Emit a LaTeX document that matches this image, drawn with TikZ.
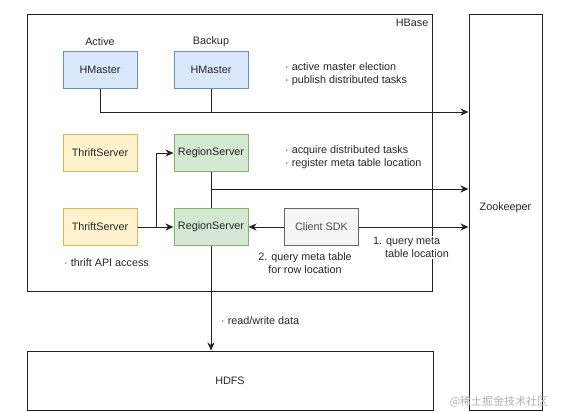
\documentclass[tikz,border=0pt]{standalone}
\usepackage{fontspec}
\setmainfont{Liberation Sans}
\newfontfamily\cjkfont{Noto Sans CJK SC}
\usetikzlibrary{arrows.meta}
\definecolor{bfill}{HTML}{DAE8FC}\definecolor{bdraw}{HTML}{6C8EBF}
\definecolor{yfill}{HTML}{FFF2CC}\definecolor{ydraw}{HTML}{D6B656}
\definecolor{gfill}{HTML}{D5E8D4}\definecolor{gdraw}{HTML}{82B366}
\definecolor{sfill}{HTML}{F5F5F5}\definecolor{sdraw}{HTML}{666666}
\definecolor{lncol}{HTML}{222222}
\begin{document}
\begin{tikzpicture}[x=1pt,y=-1pt,
  every node/.style={font=\fontsize{10.8}{13}\selectfont, text=black!85},
  comp/.style={draw, line width=1pt, minimum width=74pt, minimum height=37pt, inner sep=0pt},
  hm/.style={comp, fill=bfill, draw=bdraw},
  ts/.style={comp, fill=yfill, draw=ydraw},
  rsv/.style={comp, fill=gfill, draw=gdraw},
  sdkbox/.style={comp, fill=sfill, draw=sdraw, text=black!70},
  frame/.style={draw=lncol, line width=1pt, inner sep=0pt},
  note/.style={align=left, anchor=west, inner sep=0pt},
  ln/.style={draw=lncol, line width=1pt},
  arr/.style={ln, -{Stealth[length=8pt,width=7pt,inset=2.5pt]}}]
\useasboundingbox[fill=white] (0,0) rectangle (562,412);
% containers
\node[frame, minimum width=405pt, minimum height=276pt] (hbase) at (229.5,153) {};
\node[anchor=north east, inner sep=4pt] (hbl) at (hbase.north east) {HBase};
\node[frame, minimum width=73pt, minimum height=395pt] (zk) at (505.5,212.5) {};
\node (zkl) at (505.5,208) {Zookeeper};
\node[frame, minimum width=406pt, minimum height=59pt] (hdfs) at (230,380.5) {HDFS};
% components
\node[hm] (hm1) at (100,70) {HMaster};
\node[hm] (hm2) at (211,70) {HMaster};
\node (act) at (100,42) {Active};
\node (bak) at (211,42) {Backup};
\node[ts] (ts1) at (100,153) {ThriftServer};
\node[ts] (ts2) at (100,227) {ThriftServer};
\node[rsv] (rs1) at (211,153) {RegionServer};
\node[rsv] (rs2) at (211,227) {RegionServer};
\node[sdkbox] (sdk) at (321.5,227) {Client SDK};
% notes
\node[note] (n1) at (285,74.5) {· active master election\\· publish distributed tasks};
\node[note] (n2) at (285,157.5) {· acquire distributed tasks\\· register meta table location};
\node[note] (n3) at (64,263) {· thrift API access};
\node[note] (n4) at (221,321) {· read/write data};
% connectors
\coordinate (j1) at (211,112);
\coordinate (j2) at (211,189);
\coordinate (j3) at (156,227);
\draw[ln] (hm1.south) |- (j1);
\draw[ln] (hm2.south) -- (j1);
\draw[arr] (j1) -- (j1 -| zk.west);
\draw[ln] (rs1.south) -- (j2);
\draw[ln] (rs2.north) -- (j2);
\draw[arr] (j2) -- (j2 -| zk.west);
\draw[arr] (ts2.east) -- (rs2.west);
\draw[arr] (j3) |- (rs1.west);
\draw[arr] (sdk.west) -- (rs2.east);
\draw[arr] (sdk.east) -- (sdk.east -| zk.west);
\draw[arr] (rs2.south) -- (rs2.south |- hdfs.north);
% connector labels
\node[align=center, fill=white, inner sep=1pt] (l2) at (305,263.5) {2. query meta table\\for row location};
\node[align=left, fill=white, inner sep=1pt, anchor=west] (l1) at (372,247.5) {1. query meta\\\hspace*{12pt}table location};
% watermark
\node[text=black!30, font=\cjkfont\fontsize{11}{12}\selectfont] (wm) at (499,402) {@稀土掘金技术社区};
\end{tikzpicture}
\end{document}
